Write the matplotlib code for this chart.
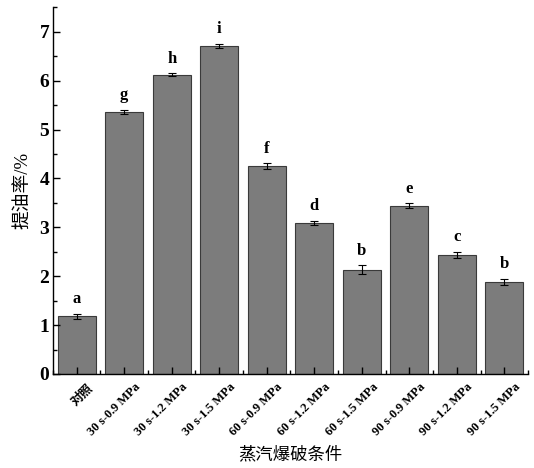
import matplotlib
matplotlib.use("Agg")
import matplotlib.pyplot as plt
import matplotlib.transforms as mtransforms
from matplotlib.ticker import MultipleLocator, FixedLocator

categories = ["对照", "30 s-0.9 MPa", "30 s-1.2 MPa", "30 s-1.5 MPa",
              "60 s-0.9 MPa", "60 s-1.2 MPa", "60 s-1.5 MPa",
              "90 s-0.9 MPa", "90 s-1.2 MPa", "90 s-1.5 MPa"]
values = [1.18, 5.37, 6.12, 6.72, 4.25, 3.09, 2.13, 3.44, 2.43, 1.88]
errors = [0.05, 0.04, 0.03, 0.04, 0.06, 0.04, 0.09, 0.05, 0.06, 0.07]
letters = ["a", "g", "h", "i", "f", "d", "b", "e", "c", "b"]

plt.rcParams['font.family'] = ['Liberation Serif', 'Noto Sans CJK SC']

fig = plt.figure(figsize=(5.34, 4.68), dpi=100)
ax = fig.add_axes([0.099, 0.201, 0.890, 0.783])

x = list(range(len(categories)))
ax.bar(x, values, width=0.8, color="#7c7c7c", edgecolor="#3a3a3a", linewidth=0.8,
       yerr=errors, error_kw=dict(ecolor="black", elinewidth=0.8, capsize=3, capthick=0.8))
for xi, v, e, l in zip(x, values, errors, letters):
    ax.text(xi, v + e + 0.14, l, ha="center", va="bottom", fontsize=12, fontweight="bold")

ax.set_xlim(-0.5, 9.5)
ax.set_ylim(0, 7.5)
ax.spines['top'].set_visible(False)
ax.spines['right'].set_visible(False)
ax.spines['left'].set_linewidth(1.0)
ax.spines['bottom'].set_linewidth(1.0)

ax.yaxis.set_major_locator(MultipleLocator(1))
ax.yaxis.set_minor_locator(MultipleLocator(0.5))
ax.set_xticks(x)
ax.xaxis.set_minor_locator(FixedLocator([i + 0.5 for i in range(-1, 10)]))
ax.tick_params(axis='both', which='major', direction='in', length=5, width=1)
ax.tick_params(axis='both', which='minor', direction='in', length=3, width=1)
ax.tick_params(axis='y', labelsize=14, pad=2.5)
for t in ax.get_yticklabels():
    t.set_fontweight("bold")

ax.set_xticklabels(categories, rotation=45, ha="right", va="top", rotation_mode="anchor",
                   fontsize=9, fontweight="bold")
ax.tick_params(axis='x', pad=5)
offset = mtransforms.ScaledTranslation(10 / 100, 0, fig.dpi_scale_trans)
for t in ax.get_xticklabels():
    t.set_transform(t.get_transform() + offset)
    if t.get_text() == categories[0]:
        t.set_fontfamily(['Noto Sans CJK SC'])
        t.set_fontweight("bold")
        t.set_fontsize(9)

ax.set_ylabel("提油率/%", fontsize=13.5, labelpad=5)
ax.set_xlabel("蒸汽爆破条件", fontsize=12.5, labelpad=6)

fig.savefig("out.png", dpi=100)
